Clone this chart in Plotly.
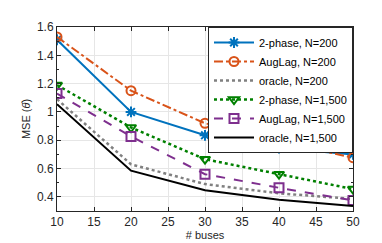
import plotly.graph_objects as go

buses = [10, 20, 30, 40, 50]
twophase_200 = [1.51, 1.00, 0.835, 0.745, 0.70]
auglag_200 = [1.53, 1.15, 0.92, 0.79, 0.677]
oracle_200 = [1.09, 0.63, 0.49, 0.425, 0.385]
twophase_1500 = [1.19, 0.89, 0.666, 0.56, 0.455]
auglag_1500 = [1.13, 0.827, 0.56, 0.464, 0.375]
oracle_1500 = [1.055, 0.585, 0.446, 0.38, 0.336]

y_ticks = [0.4, 0.6, 0.8, 1.0, 1.2, 1.4, 1.6]
y_tick_text = ["0.4", "0.6", "0.8", "1", "1.2", "1.4", "1.6"]
x_ticks = [10, 15, 20, 25, 30, 35, 40, 45, 50]

series = [
    ("2-phase, N=200", twophase_200, "#0072BD", "solid", "asterisk-open", 2),
    ("AugLag, N=200", auglag_200, "#D95319", "dashdot", "circle-open", 2),
    ("oracle, N=200", oracle_200, "#808080", "dot", None, 2.5),
    ("2-phase, N=1,500", twophase_1500, "#008000", "dot", "triangle-down-open", 2.5),
    ("AugLag, N=1,500", auglag_1500, "#7E2F8E", "dash", "square-open", 2),
    ("oracle, N=1,500", oracle_1500, "#000000", "solid", None, 2),
]

fig = go.Figure()
for name, ys, color, dash, sym, w in series:
    kw = dict(mode="lines")
    if sym:
        kw = dict(mode="lines+markers",
                  marker=dict(symbol=sym, size=9, color=color, line=dict(width=2, color=color)))
    fig.add_trace(go.Scatter(x=buses, y=ys, name=name,
                             line=dict(color=color, dash=dash, width=w), **kw))

axis_common = dict(showline=True, linecolor="#262626", linewidth=1, mirror="ticks",
                   ticks="inside", ticklen=4, tickcolor="#262626",
                   showgrid=True, gridcolor="#e6e6e6", gridwidth=1, zeroline=False,
                   tickfont=dict(family="Liberation Sans, Arial", size=12, color="#262626"))

fig.update_layout(
    width=382, height=243,
    margin=dict(l=49, r=37, t=15, b=31),
    paper_bgcolor="white", plot_bgcolor="white",
    font=dict(family="Liberation Sans, Arial", color="#262626"),
    showlegend=True,
    legend=dict(x=1, y=1, xanchor="right", yanchor="top",
                bgcolor="white", bordercolor="#262626", borderwidth=1,
                font=dict(size=11, color="black"), tracegroupgap=0,
                itemwidth=40),
    xaxis=dict(range=[10, 50], tickvals=x_ticks,
               title=dict(text="# buses", font=dict(size=11), standoff=2), **axis_common),
    yaxis=dict(range=[0.3, 1.6], tickvals=y_ticks, ticktext=y_tick_text,
               minor=dict(ticks="inside", ticklen=2, tickcolor="#262626", dtick=0.1, showgrid=False),
               title=dict(text="MSE (<i>θ̂</i>)", font=dict(size=11), standoff=4), **axis_common),
)

fig.write_html("out.html")
